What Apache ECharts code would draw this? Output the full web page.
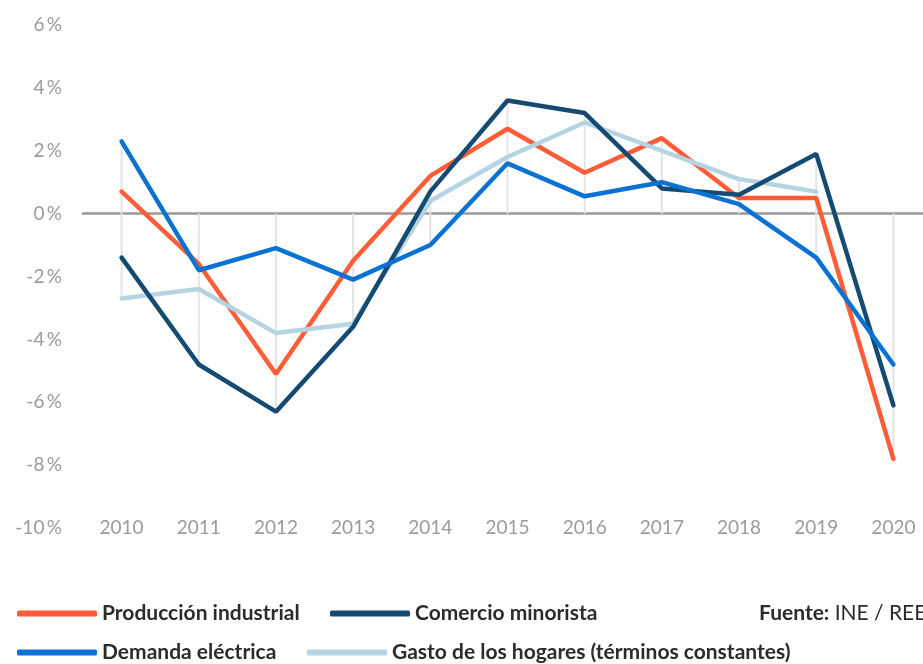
<!DOCTYPE html>
<html>
<head>
<meta charset="utf-8">
<script src="https://cdn.jsdelivr.net/npm/echarts@6/dist/echarts.min.js"></script>
<style>
  html, body { margin: 0; padding: 0; background: #fff; }
  #chart { width: 923px; height: 664px; }
</style>
</head>
<body>
<div id="chart"></div>
<script>
const years = ['2010', '2011', '2012', '2013', '2014', '2015', '2016', '2017', '2018', '2019', '2020'];

const produccion = [0.7, -1.6, -5.1, -1.5, 1.2, 2.7, 1.3, 2.4, 0.5, 0.5, -7.8];
const comercio = [-1.4, -4.8, -6.3, -3.6, 0.7, 3.6, 3.2, 0.8, 0.6, 1.9, -6.1];
const demanda = [2.3, -1.8, -1.1, -2.1, -1.0, 1.6, 0.55, 1.0, 0.3, -1.4, -4.8];
const gasto = [-2.7, -2.4, -3.8, -3.5, 0.4, 1.8, 2.9, 2.0, 1.1, 0.7, null];

const names = {
  produccion: 'Producción industrial',
  comercio: 'Comercio minorista',
  demanda: 'Demanda eléctrica',
  gasto: 'Gasto de los hogares (términos constantes)',
};

const colors = {
  produccion: '#ff5c38',
  comercio: '#154a72',
  demanda: '#0a72d2',
  gasto: '#b4d4e1',
};

// high-low lines per year (always reaching zero)
const allSeries = [produccion, comercio, demanda, gasto];
const ranges = years.map((y, i) => {
  const vals = allSeries.map(s => s[i]).filter(v => v != null);
  return [i, Math.min(0, ...vals), Math.max(0, ...vals)];
});

const chart = echarts.init(document.getElementById('chart'));

const labelFont = { color: '#9b9b9b', fontSize: 19, fontFamily: 'Lato' };
const legendText = { color: '#2b2b2b', fontSize: 21, fontWeight: 'bold', fontFamily: 'Lato' };

function legend(name, left, top) {
  return {
    data: [name],
    left: left,
    top: top,
    padding: 0,
    icon: 'roundRect',
    itemWidth: 80,
    itemHeight: 6,
    textStyle: legendText,
    selectedMode: false,
  };
}

function line(key, data) {
  return {
    name: names[key],
    type: 'line',
    data: data,
    symbol: 'none',
    color: colors[key],
    lineStyle: { width: 4.5, color: colors[key], cap: 'round' },
    z: 3,
  };
}

chart.setOption({
  animation: false,
  legend: [
    legend(names.produccion, 17, 603),
    legend(names.comercio, 330, 603),
    legend(names.demanda, 17, 642),
    legend(names.gasto, 307, 642),
  ],
  graphic: [{
    type: 'text',
    left: 759,
    top: 603,
    style: {
      text: '{b|Fuente:} INE / REE',
      fill: '#2b2b2b',
      fontSize: 21,
      fontFamily: 'Lato',
      rich: { b: { fontWeight: 'bold', fontSize: 21, fontFamily: 'Lato', fill: '#2b2b2b' } },
    },
  }],
  grid: { left: 83, width: 849, top: 25, bottom: 136, outerBoundsMode: 'none', containLabel: false },
  xAxis: {
    type: 'category',
    data: years,
    boundaryGap: true,
    axisLine: { onZero: true, lineStyle: { color: '#999', width: 2.5 } },
    axisTick: { show: false },
    axisLabel: { ...labelFont, margin: 0, verticalAlign: 'middle' },
  },
  yAxis: {
    type: 'value',
    min: -10,
    max: 6,
    interval: 2,
    axisLine: { show: false },
    axisTick: { show: false },
    splitLine: { show: false },
    axisLabel: { ...labelFont, margin: 21, formatter: '{value}\u2009%' },
  },
  series: [
    {
      type: 'custom',
      data: ranges,
      silent: true,
      z: 1,
      renderItem: (params, api) => {
        const top = api.coord([api.value(0), api.value(2)]);
        const bot = api.coord([api.value(0), api.value(1)]);
        return {
          type: 'line',
          shape: { x1: top[0], y1: top[1], x2: bot[0], y2: bot[1] },
          style: { stroke: '#e4e4e4', lineWidth: 2 },
        };
      },
    },
    line('produccion', produccion),
    line('gasto', gasto),
    line('comercio', comercio),
    line('demanda', demanda),
  ],
});
</script>
</body>
</html>
